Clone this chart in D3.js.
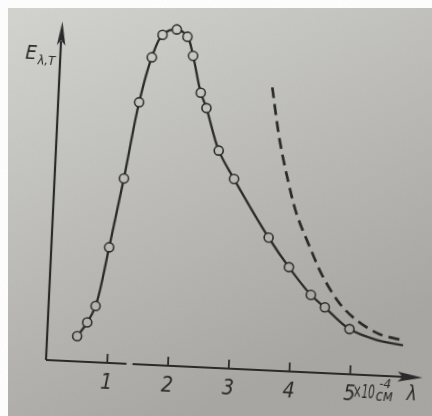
<!DOCTYPE html>
<html><head><meta charset="utf-8">
<script src="https://cdn.jsdelivr.net/npm/d3@7"></script>
<style>html,body{margin:0;padding:0;background:#fff;} svg{display:block}</style>
</head><body>
<svg id="c" width="432" height="416"></svg>
<script>
// measured points (circles): wavelength in 10^-4 cm, relative emissive power
const lambda = [0.494,0.648,0.773,0.951,1.139,1.331,1.504,1.663,1.893,2.074,2.181,2.335,2.441,2.676,2.949,3.563,3.919,4.301,4.540,4.962];
const energy = [7.5,11.7,16.7,34.3,54.9,77.7,91.2,98.0,99.8,97.8,92.2,81.4,76.9,64.5,56.3,39.4,30.9,23.0,19.5,13.4];
// continuation of the solid curve beyond the last circle
const tailLambda = [5.41,5.84];
const tailEnergy = [10.6,9.4];
// dashed curve
const dashLambda = [3.507,3.668,3.835,4.00,4.243,4.484,4.779,5.066,5.459,5.846];
const dashEnergy = [84.0,68.5,56.7,47.0,37.3,28.6,20.9,16.2,12.3,10.9];
const tickValues = [1,2,3,4,5];
const tickLabels = ["1","2","3","4","5"];

const INK = "#2b2b2b";
const FONT = "'Liberation Sans Narrow','DejaVu Sans Condensed','Liberation Sans',sans-serif";

const svg = d3.select("#c");
const defs = svg.append("defs");
const p1 = [8,8], p2 = [200,416];
const c0 = "#d3d3d0", c1 = "#a6a5a1";
const grad = defs.append("linearGradient").attr("id","paper")
  .attr("gradientUnits","userSpaceOnUse")
  .attr("x1",p1[0]).attr("y1",p1[1]).attr("x2",p2[0]).attr("y2",p2[1]);
grad.append("stop").attr("offset","0").attr("stop-color",c0);
grad.append("stop").attr("offset","1").attr("stop-color",c1);
const blur = defs.append("filter").attr("id","soft");
blur.append("feGaussianBlur").attr("stdDeviation",0.45);
const noise = defs.append("filter").attr("id","grain");
noise.append("feTurbulence").attr("type","fractalNoise").attr("baseFrequency",0.9).attr("numOctaves",2).attr("seed",3);
noise.append("feColorMatrix").attr("type","saturate").attr("values",0);

svg.append("rect").attr("width",432).attr("height",416).attr("fill","#fff");
svg.append("rect").attr("x",8).attr("y",8).attr("width",424).attr("height",408).attr("fill","url(#paper)");
svg.append("rect").attr("x",8).attr("y",8).attr("width",424).attr("height",408)
  .attr("filter","url(#grain)").attr("opacity",0.07);

const OX = 46, OY = 360, ANG = 2.7;
const rad = ANG*Math.PI/180, cs = Math.cos(rad), sn = Math.sin(rad);
const g = svg.append("g").attr("transform",`translate(${OX},${OY}) rotate(${ANG})`).attr("filter","url(#soft)");

const x = d3.scaleLinear().domain([0,5]).range([0,304]);
const y = d3.scaleLinear().domain([0,100]).range([0,-337]);

// paper colour under a local point (for hollow circles)
const interp = d3.interpolateRgb(c0,c1);
function paperAt(lx,ly){
  const X = OX + lx*cs - ly*sn, Y = OY + lx*sn + ly*cs;
  const vx = p2[0]-p1[0], vy = p2[1]-p1[1];
  let t = ((X-p1[0])*vx + (Y-p1[1])*vy)/(vx*vx+vy*vy);
  return interp(Math.max(0,Math.min(1,t)));
}

// axes
const axisG = g.append("g").call(
  d3.axisBottom(x).tickValues(tickValues).tickFormat((d,i)=>tickLabels[i])
    .tickSizeInner(-9).tickSizeOuter(0));
axisG.select(".domain").remove();
axisG.selectAll(".tick line").attr("stroke",INK).attr("stroke-width",1.8);
axisG.selectAll(".tick text").attr("y",26).attr("dy",0)
  .attr("fill",INK).attr("font-family",FONT).attr("font-style","italic")
  .attr("font-size",21).attr("text-anchor","middle");

g.append("path")
  .attr("d",`M${x(0)},0H${x(1.325)}M${x(1.425)},0H370`)
  .attr("stroke",INK).attr("stroke-width",2.2).attr("fill","none");
g.append("path").attr("d","M377,0L352,-5L357,0L352,5Z").attr("fill",INK);

g.append("path").attr("d",`M0,0V${y(100)+18}`)
  .attr("stroke",INK).attr("stroke-width",2.2).attr("fill","none");
g.append("path").attr("d",`M0.5,${y(100)-2}L-4,${y(100)+22}L0,${y(100)+17}L4.5,${y(100)+22}Z`).attr("fill",INK);

// axis labels
const yl = g.append("text").attr("x",-35).attr("y",-300)
  .attr("fill",INK).attr("font-family",FONT).attr("font-style","italic").attr("font-size",20);
yl.append("tspan").text("E");
yl.append("tspan").attr("dy",5).attr("dx",1).attr("font-size",13).text("λ,T");

function label(txt,lx,ly,size,len){
  g.append("text").attr("x",lx).attr("y",ly).attr("fill",INK).attr("font-family",FONT)
    .attr("font-style","italic").attr("font-size",size)
    .attr("textLength",len).attr("lengthAdjust","spacingAndGlyphs").text(txt);
}
label("×10",308,23,20,22);
label("-4",334,12,13,12);
label("см",331,25,15,17);
label("λ",362,23,21,10);

// curves
const line = d3.line().x(d=>x(d[0])).y(d=>y(d[1])).curve(d3.curveCatmullRom.alpha(0.5));
const solid = lambda.map((l,i)=>[l,energy[i]]).concat(tailLambda.map((l,i)=>[l,tailEnergy[i]]));
g.append("path").attr("d",line(solid)).attr("fill","none")
  .attr("stroke",INK).attr("stroke-width",2.3).attr("stroke-linecap","round");

const dashed = dashLambda.map((l,i)=>[l,dashEnergy[i]]);
g.append("path").attr("d",line(dashed)).attr("fill","none")
  .attr("stroke",INK).attr("stroke-width",2.7).attr("stroke-dasharray","11,6");

g.selectAll("circle.pt").data(lambda.map((l,i)=>[l,energy[i]])).join("circle")
  .attr("class","pt")
  .attr("cx",d=>x(d[0])).attr("cy",d=>y(d[1])).attr("r",4.5)
  .attr("fill",d=>paperAt(x(d[0]),y(d[1])))
  .attr("stroke",INK).attr("stroke-width",1.6);
</script>
</body></html>
